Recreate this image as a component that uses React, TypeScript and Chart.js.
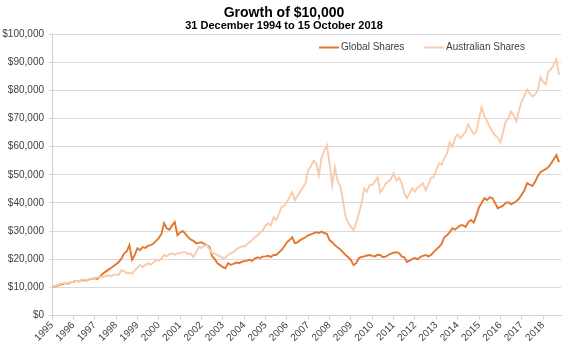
import React, { useEffect, useRef } from 'react';
import { Chart, registerables } from 'chart.js';

Chart.register(...registerables);

// Sampling: one value every 1/8 year starting 1 Jan 1995 (values in $ thousands)
const START_YEAR = 1995;
const STEP_YEARS = 0.125;
const AXIS_END_YEAR = 2018.84;

const yearLabels = [
  '1995', '1996', '1997', '1998', '1999', '2000', '2001', '2002', '2003', '2004', '2005', '2006',
  '2007', '2008', '2009', '2010', '2011', '2012', '2013', '2014', '2015', '2016', '2017', '2018',
];

const yTickValues = [0, 10000, 20000, 30000, 40000, 50000, 60000, 70000, 80000, 90000, 100000];

const globalSharesK = [
  10.0, 10.3, 10.6, 11.0, 11.2, 11.5, 11.3, 11.8,
  12.0, 12.3, 12.1, 12.5, 12.6, 12.4, 12.9, 13.0,
  13.2, 13.0, 13.9, 14.8, 15.5, 16.2, 16.8, 17.5,
  18.2, 19.0, 20.2, 22.0, 22.8, 25.0, 19.8, 21.5,
  23.9, 23.2, 24.3, 24.0, 24.8, 25.0, 25.6, 26.5,
  27.5, 29.0, 32.8, 31.0, 30.5, 32.0, 33.2, 28.5,
  29.5, 30.0, 29.0, 27.8, 27.0, 26.5, 25.7, 25.8,
  26.0, 25.5, 25.0, 24.3, 21.0, 20.0, 18.5, 17.9,
  17.2, 16.8, 18.6, 18.0, 18.3, 18.8, 18.6, 19.0,
  19.3, 19.5, 19.8, 19.4, 20.2, 20.7, 20.4, 20.9,
  21.0, 21.2, 20.8, 21.5, 21.5, 22.4, 23.2, 24.5,
  26.0, 26.8, 27.8, 25.7, 26.0, 26.8, 27.3, 27.8,
  28.5, 28.8, 29.2, 29.6, 29.3, 29.8, 29.3, 29.0,
  26.8, 26.0, 25.0, 24.2, 23.5, 22.5, 21.5, 20.7,
  19.7, 17.9, 18.6, 20.4, 20.8, 21.0, 21.3, 21.5,
  21.2, 21.0, 21.6, 21.5, 20.7, 20.9, 21.5, 22.0,
  22.3, 22.5, 22.2, 21.0, 20.7, 19.0, 19.5, 20.0,
  20.4, 20.0, 20.8, 21.2, 21.5, 21.0, 21.5, 22.5,
  23.5, 24.3, 25.5, 27.8, 28.5, 29.5, 31.0, 30.5,
  31.3, 32.0, 32.1, 31.5, 33.2, 33.9, 33.0, 35.5,
  38.5, 40.0, 41.7, 41.0, 42.0, 41.7, 40.0, 38.1,
  38.5, 39.0, 40.0, 40.2, 39.5, 40.0, 40.6, 41.5,
  43.0, 44.5, 47.0, 46.5, 46.0, 47.5, 49.5, 50.9,
  51.5, 52.0, 52.7, 54.0, 55.5, 57.0, 54.5,
];

const australianSharesK = [
  10.0, 10.4, 10.8, 11.2, 11.4, 11.6, 11.5, 11.9,
  12.0, 12.3, 12.2, 12.6, 12.8, 12.5, 13.0, 13.1,
  13.2, 13.5, 13.8, 13.6, 14.0, 14.3, 13.9, 14.4,
  14.6, 14.4, 16.1, 15.8, 15.0, 15.2, 14.8, 16.0,
  17.0, 17.9, 17.2, 18.0, 18.6, 18.0, 18.8, 19.7,
  19.5, 20.2, 21.5, 21.0, 21.8, 22.0, 21.5, 22.2,
  22.0, 22.5, 22.5, 21.8, 22.0, 20.7, 22.5, 24.3,
  24.0, 24.7, 25.0, 23.5, 22.2, 22.0, 21.5, 21.0,
  20.4, 20.6, 21.5, 22.2, 22.5, 23.5, 24.0, 24.5,
  24.5, 25.2, 26.0, 26.8, 27.8, 28.5, 29.5, 30.2,
  32.0, 32.8, 32.0, 34.9, 34.0, 36.0, 38.5, 39.0,
  40.2, 42.0, 43.8, 41.0, 42.5, 44.0, 45.6, 47.0,
  51.6, 53.0, 55.0, 54.0, 49.8, 56.0, 58.5, 60.4,
  54.0, 46.3, 52.7, 48.0, 46.0, 41.0, 35.0, 33.0,
  31.4, 30.3, 33.0, 36.3, 40.0, 45.2, 44.0, 46.3,
  46.3, 47.5, 49.1, 43.8, 45.0, 46.9, 47.5, 48.5,
  50.5, 48.0, 49.0, 47.0, 43.4, 41.7, 43.5, 45.2,
  44.0, 45.5, 46.0, 47.0, 44.5, 46.5, 49.0, 49.1,
  51.6, 54.0, 53.5, 56.0, 57.5, 61.5, 60.0, 63.0,
  64.3, 63.0, 64.0, 65.4, 67.9, 66.0, 64.5, 65.4,
  70.0, 74.0, 70.8, 69.0, 67.0, 65.4, 64.0, 63.3,
  61.5, 65.0, 69.0, 70.0, 72.5, 71.0, 69.0, 73.0,
  76.0, 78.0, 80.3, 79.0, 77.8, 78.5, 80.0, 84.6,
  83.0, 82.1, 86.7, 87.5, 89.0, 91.0, 85.5,
];

const TITLE = 'Growth of $10,000';
const SUBTITLE = '31 December 1994 to 15 October 2018';
const SERIES_NAMES = ['Global Shares', 'Australian Shares'];
const COLORS = ['#E5762F', '#F8CBAD'];

const FONT = '"Liberation Sans", Arial, Helvetica, sans-serif';

const toPoints = (vals: number[]) =>
  vals.map((v, i) => ({ x: START_YEAR + i * STEP_YEARS, y: v * 1000 }));

const headerPlugin = {
  id: 'header',
  afterDraw(chart: any) {
    const ctx = chart.ctx as CanvasRenderingContext2D;
    ctx.save();
    ctx.fillStyle = '#000';
    ctx.textAlign = 'center';
    ctx.textBaseline = 'alphabetic';
    ctx.font = `bold 14px ${FONT}`;
    ctx.fillText(TITLE, 284, 17);
    ctx.font = `bold 11px ${FONT}`;
    ctx.fillText(SUBTITLE, 284, 29);

    // legend
    ctx.font = `10px ${FONT}`;
    ctx.textAlign = 'left';
    ctx.textBaseline = 'middle';
    const items = [
      { x: 319, label: SERIES_NAMES[0], color: COLORS[0] },
      { x: 424, label: SERIES_NAMES[1], color: COLORS[1] },
    ];
    const ly = 47.5;
    items.forEach((it) => {
      ctx.strokeStyle = it.color;
      ctx.lineWidth = 2;
      ctx.beginPath();
      ctx.moveTo(it.x, ly);
      ctx.lineTo(it.x + 20, ly);
      ctx.stroke();
      ctx.fillStyle = '#404040';
      ctx.fillText(it.label, it.x + 22, ly);
    });
    ctx.restore();
  },
};

export default function App() {
  const ref = useRef<HTMLCanvasElement | null>(null);

  useEffect(() => {
    document.body.style.margin = '0';
    const canvas = ref.current;
    if (!canvas) return;
    const chart = new Chart(canvas, {
      type: 'line',
      data: {
        datasets: [
          {
            label: SERIES_NAMES[0],
            data: toPoints(globalSharesK),
            borderColor: COLORS[0],
            backgroundColor: COLORS[0],
            borderWidth: 1.9,
            pointRadius: 0,
            tension: 0,
            order: 1,
          },
          {
            label: SERIES_NAMES[1],
            data: toPoints(australianSharesK),
            borderColor: COLORS[1],
            backgroundColor: COLORS[1],
            borderWidth: 1.9,
            pointRadius: 0,
            tension: 0,
            order: 0,
          },
        ],
      },
      options: {
        responsive: false,
        animation: false,
        devicePixelRatio: 1,
        layout: { padding: { top: 34, right: 8, left: 0, bottom: 0 } },
        plugins: {
          legend: { display: false },
          title: { display: false },
          tooltip: { enabled: false },
        },
        scales: {
          x: {
            type: 'linear',
            min: START_YEAR,
            max: AXIS_END_YEAR,
            afterBuildTicks: (scale: any) => {
              scale.ticks = yearLabels.map((_, i) => ({ value: START_YEAR + i }));
            },
            afterFit: (scale: any) => {
              scale.height = 40.5;
            },
            ticks: {
              autoSkip: false,
              maxRotation: 45,
              minRotation: 45,
              padding: 0,
              color: '#404040',
              font: { family: FONT, size: 10 },
              callback: (v: any) => yearLabels[Math.round(Number(v)) - START_YEAR] ?? '',
            },
            grid: {
              drawOnChartArea: false,
              drawTicks: true,
              tickLength: 4,
              color: '#D0D0D0',
            },
            border: { color: '#D0D0D0', width: 1 },
          },
          y: {
            min: 0,
            max: 100000,
            afterBuildTicks: (scale: any) => {
              scale.ticks = yTickValues.map((v) => ({ value: v }));
            },
            afterFit: (scale: any) => {
              scale.width = 52;
            },
            ticks: {
              padding: 5,
              color: '#404040',
              font: { family: FONT, size: 10 },
              callback: (v: any) => '$' + Number(v).toLocaleString('en-US'),
            },
            grid: {
              color: '#D9D9D9',
              lineWidth: 1,
              tickLength: 3,
            },
            border: { color: '#D0D0D0', width: 1 },
          },
        },
      },
      plugins: [headerPlugin],
    });
    return () => chart.destroy();
  }, []);

  return (
    <div style={{ position: 'absolute', left: 0, top: 0, width: 569, height: 356, background: '#fff' }}>
      <canvas ref={ref} width={569} height={356} style={{ display: 'block' }} />
    </div>
  );
}
